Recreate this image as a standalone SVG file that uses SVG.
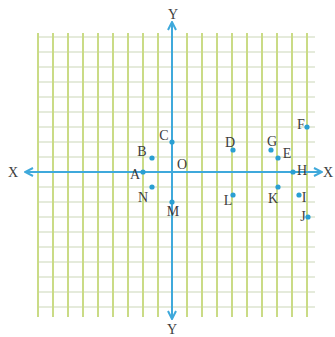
<svg xmlns="http://www.w3.org/2000/svg" width="335" height="337" viewBox="0 0 335 337">
<style>
.vg{stroke:#cadb86;stroke-width:2}
.hg{stroke:#dce5cf;stroke-width:1.4}
.ax{stroke:#3fa9db;stroke-width:2;fill:none}
.pt{fill:#2a9fd2}
text{font-family:"Liberation Serif","DejaVu Serif",serif;font-size:14px;fill:#3d3d3d;text-anchor:middle}
</style>
<defs>
<marker id="arr" viewBox="0 0 10 10" refX="9" refY="5" markerWidth="5" markerHeight="5" orient="auto" markerUnits="strokeWidth">
<path d="M1,1 L9,5 L1,9" fill="none" stroke="#3fa9db" stroke-width="2"/>
</marker>
</defs>
<rect width="335" height="337" fill="#ffffff"/>
<g id="grid">
<g class="hg">
<line x1="37" y1="37" x2="315" y2="37"/><line x1="37" y1="52" x2="315" y2="52"/><line x1="37" y1="67" x2="315" y2="67"/><line x1="37" y1="82" x2="315" y2="82"/><line x1="37" y1="97" x2="315" y2="97"/><line x1="37" y1="112" x2="315" y2="112"/><line x1="37" y1="127" x2="315" y2="127"/><line x1="37" y1="142" x2="315" y2="142"/><line x1="37" y1="157" x2="315" y2="157"/><line x1="37" y1="187" x2="315" y2="187"/><line x1="37" y1="202" x2="315" y2="202"/><line x1="37" y1="217" x2="315" y2="217"/><line x1="37" y1="232" x2="315" y2="232"/><line x1="37" y1="247" x2="315" y2="247"/><line x1="37" y1="262" x2="315" y2="262"/><line x1="37" y1="277" x2="315" y2="277"/><line x1="37" y1="292" x2="315" y2="292"/><line x1="37" y1="307" x2="315" y2="307"/>
</g>
<g class="vg">
<line x1="38" y1="33" x2="38" y2="317"/><line x1="53" y1="33" x2="53" y2="317"/><line x1="68" y1="33" x2="68" y2="317"/><line x1="83" y1="33" x2="83" y2="317"/><line x1="98" y1="33" x2="98" y2="317"/><line x1="113" y1="33" x2="113" y2="317"/><line x1="128" y1="33" x2="128" y2="317"/><line x1="143" y1="33" x2="143" y2="317"/><line x1="158" y1="33" x2="158" y2="317"/><line x1="187" y1="33" x2="187" y2="317"/><line x1="202" y1="33" x2="202" y2="317"/><line x1="217" y1="33" x2="217" y2="317"/><line x1="232" y1="33" x2="232" y2="317"/><line x1="247" y1="33" x2="247" y2="317"/><line x1="262" y1="33" x2="262" y2="317"/><line x1="277" y1="33" x2="277" y2="317"/><line x1="292" y1="33" x2="292" y2="317"/><line x1="307" y1="33" x2="307" y2="317"/>
</g>
</g>
<g id="connectors">
<line class="ax" x1="172" y1="172" x2="172" y2="22" marker-end="url(#arr)"/>
<line class="ax" x1="172" y1="172" x2="172" y2="319" marker-end="url(#arr)"/>
<line class="ax" x1="172" y1="172" x2="25" y2="172" marker-end="url(#arr)"/>
<line class="ax" x1="172" y1="172" x2="322" y2="172" marker-end="url(#arr)"/>
</g>
<g id="axis-labels">
<text x="173" y="19">Y</text>
<text x="172" y="334">Y</text>
<text x="13" y="177">X</text>
<text x="328" y="177">X</text>
<text x="182" y="169">O</text>
</g>
<g id="F"><circle class="pt" cx="307" cy="127" r="2.6"/><text x="301" y="129">F</text></g>
<g id="C"><circle class="pt" cx="172" cy="142" r="2.6"/><text x="164" y="140">C</text></g>
<g id="D"><circle class="pt" cx="233" cy="150" r="2.6"/><text x="230" y="147">D</text></g>
<g id="G"><circle class="pt" cx="271" cy="150" r="2.6"/><text x="272" y="146">G</text></g>
<g id="E"><circle class="pt" cx="278" cy="158" r="2.6"/><text x="287" y="158">E</text></g>
<g id="B"><circle class="pt" cx="152" cy="158" r="2.6"/><text x="142" y="156">B</text></g>
<g id="A"><circle class="pt" cx="143" cy="172" r="2.6"/><text x="135" y="179">A</text></g>
<g id="H"><circle class="pt" cx="293" cy="172" r="2.6"/><text x="302" y="175">H</text></g>
<g id="N"><circle class="pt" cx="152" cy="187" r="2.6"/><text x="143" y="202">N</text></g>
<g id="M"><circle class="pt" cx="172" cy="202" r="2.6"/><text x="173" y="216">M</text></g>
<g id="L"><circle class="pt" cx="233" cy="195" r="2.6"/><text x="228" y="205">L</text></g>
<g id="K"><circle class="pt" cx="278" cy="187" r="2.6"/><text x="273" y="203">K</text></g>
<g id="I"><circle class="pt" cx="299" cy="195" r="2.6"/><text x="304" y="202">I</text></g>
<g id="J"><circle class="pt" cx="308" cy="217" r="2.6"/><text x="303" y="221">J</text></g>
</svg>
